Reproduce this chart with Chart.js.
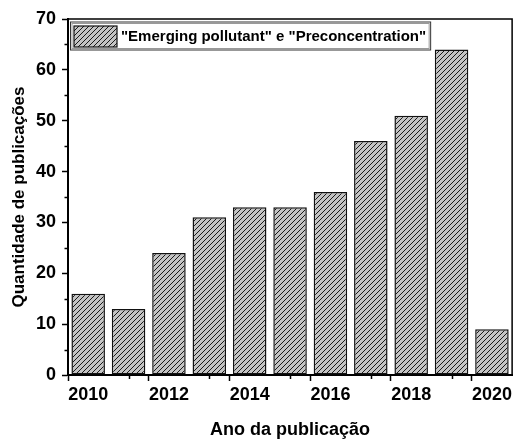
<!DOCTYPE html>
<html>
<head>
<meta charset="utf-8">
<script src="https://cdn.jsdelivr.net/npm/chart.js@4/dist/chart.umd.min.js"></script>
<style>
  html, body { margin: 0; padding: 0; background: #fff; }
  #wrap { width: 515px; height: 443px; }
</style>
</head>
<body>
<div id="wrap"><canvas id="chart" width="515" height="443"></canvas></div>
<script>
// Publications per year
const years = ['2010', '2011', '2012', '2013', '2014', '2015', '2016', '2017', '2018', '2019', '2020'];
const counts = [16, 13, 24, 31, 33, 33, 36, 46, 51, 64, 9];
const seriesLabel = '"Emerging pollutant" e "Preconcentration"';
const yTitle = 'Quantidade de publicações';
const xTitle = 'Ano da publicação';

const FONT = "'Liberation Sans', Arial, Helvetica, sans-serif";

// Grey fill with "/" diagonal hatching
function makeHatch() {
  const c = document.createElement('canvas');
  c.width = 5; c.height = 5;
  const g = c.getContext('2d');
  g.fillStyle = '#c4c4c4';
  g.fillRect(0, 0, 5, 5);
  g.fillStyle = '#1a1a1a';
  for (let i = 0; i < 5; i++) g.fillRect(i, 4 - i, 1, 1);
  return document.getElementById('chart').getContext('2d').createPattern(c, 'repeat');
}
const hatch = makeHatch();

// Frame, short minor ticks and an inset legend
const decorations = {
  id: 'decorations',
  afterDraw(chart) {
    const { ctx, chartArea: a, scales } = chart;
    ctx.save();
    ctx.strokeStyle = '#000';
    ctx.lineWidth = 1.5;
    ctx.beginPath();
    ctx.moveTo(a.left, a.top);
    ctx.lineTo(a.right, a.top);
    ctx.lineTo(a.right, a.bottom);
    ctx.stroke();

    ctx.beginPath();
    for (let v = 5; v < 70; v += 10) {
      const py = Math.round(scales.y.getPixelForValue(v)) + 0.5;
      ctx.moveTo(a.left, py);
      ctx.lineTo(a.left - 3.5, py);
    }
    years.forEach((yr, i) => {
      if (Number(yr) % 2 === 1) {
        const px = Math.round(scales.x.getPixelForValue(i)) + 0.5;
        ctx.moveTo(px, a.bottom);
        ctx.lineTo(px, a.bottom + 4);
      }
    });
    ctx.stroke();

    // legend
    const ds = chart.data.datasets[0];
    ctx.font = 'bold 15px ' + FONT;
    const tw = ctx.measureText(ds.label).width;
    const bx = a.left + 2.5, by = a.top + 3;
    const sw = 43, sh = 21;
    const boxW = 3 + sw + 4 + tw + 5, boxH = sh + 7;
    ctx.fillStyle = '#fff';
    ctx.fillRect(bx, by, boxW, boxH);
    ctx.strokeStyle = '#333';
    ctx.lineWidth = 1;
    ctx.strokeRect(bx, by, boxW, boxH);
    ctx.strokeStyle = '#999';
    ctx.strokeRect(bx + 1.5, by + 1.5, boxW - 3, boxH - 3);
    const sx = bx + 3.5, sy = by + 4;
    ctx.fillStyle = ds.backgroundColor;
    ctx.fillRect(sx, sy, sw, sh);
    ctx.strokeStyle = ds.borderColor;
    ctx.lineWidth = 1.2;
    ctx.strokeRect(sx, sy, sw, sh);
    ctx.fillStyle = '#000';
    ctx.textBaseline = 'middle';
    ctx.textAlign = 'left';
    ctx.fillText(ds.label, sx + sw + 4, sy + sh / 2 + 0.5);
    ctx.restore();
  }
};

new Chart(document.getElementById('chart'), {
  type: 'bar',
  data: {
    labels: years,
    datasets: [{
      label: seriesLabel,
      data: counts,
      backgroundColor: hatch,
      borderColor: '#111',
      borderWidth: 1.5,
      borderSkipped: false,
      barPercentage: 0.83,
      categoryPercentage: 1.0
    }]
  },
  options: {
    responsive: false,
    animation: false,
    devicePixelRatio: 1,
    layout: { padding: { top: 19, right: 1, left: 0, bottom: 0 } },
    plugins: {
      tooltip: { enabled: false },
      legend: { display: false }
    },
    scales: {
      x: {
        type: 'category',
        offset: true,
        border: { color: '#000', width: 2 },
        grid: {
          drawOnChartArea: false,
          drawTicks: true,
          tickLength: 6,
          tickWidth: 1.5,
          tickColor: (c) => (c.tick && Number(years[c.tick.value]) % 2 === 0) ? '#000' : 'rgba(0,0,0,0)'
        },
        ticks: {
          autoSkip: false,
          maxRotation: 0,
          padding: 3,
          color: '#000',
          font: { family: FONT, size: 18, weight: 'bold' },
          callback: (v, i) => Number(years[i]) % 2 === 0 ? years[i] : ''
        },
        title: {
          display: true,
          text: xTitle,
          color: '#000',
          padding: { top: 0, bottom: 2 },
          font: { family: FONT, size: 18, weight: 'bold' }
        },
        afterFit: (s) => { s.height = 68; }
      },
      y: {
        min: 0,
        max: 70,
        border: { color: '#000', width: 2 },
        grid: {
          drawOnChartArea: false,
          drawTicks: true,
          tickLength: 6,
          tickWidth: 1.5,
          tickColor: (c) => (c.tick && c.tick.value % 10 === 0) ? '#000' : 'rgba(0,0,0,0)'
        },
        ticks: {
          stepSize: 5,
          padding: 6,
          color: '#000',
          font: { family: FONT, size: 18, weight: 'bold' },
          callback: (v) => v % 10 === 0 ? String(v) : ''
        },
        title: {
          display: true,
          text: yTitle,
          color: '#000',
          padding: { top: 9, bottom: 0 },
          font: { family: FONT, size: 17, weight: 'bold' }
        },
        afterFit: (s) => { s.width = 68; }
      }
    }
  },
  plugins: [decorations]
});
</script>
</body>
</html>
